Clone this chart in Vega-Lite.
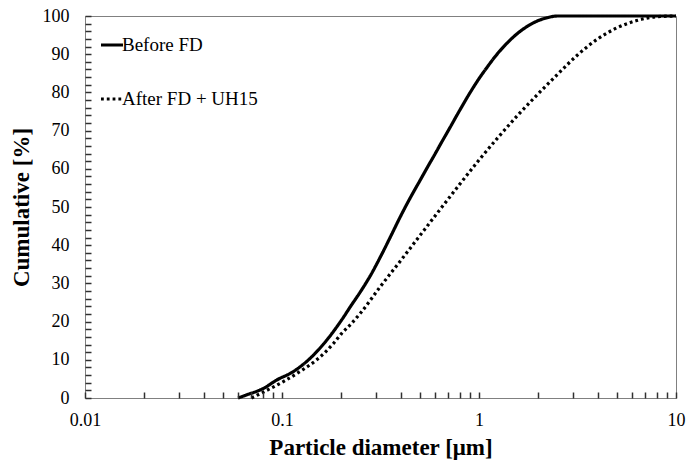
{
  "$schema": "https://vega.github.io/schema/vega-lite/v6.json",
  "width": 591,
  "height": 382,
  "autosize": "none",
  "padding": {"left": 85, "top": 16, "right": 18, "bottom": 63},
  "background": "white",
  "config": {
    "view": {"stroke": "#808080", "strokeWidth": 1},
    "font": "Liberation Serif, Times New Roman, serif",
    "axis": {
      "labelFont": "Liberation Serif, Times New Roman, serif",
      "titleFont": "Liberation Serif, Times New Roman, serif",
      "labelFontSize": 18,
      "titleFontSize": 23,
      "titleFontWeight": "bold",
      "labelColor": "black",
      "titleColor": "black",
      "grid": false
    }
  },
  "data": {
    "values": [
      {"s": "Before FD", "d": 0.0598, "c": 0},
      {"s": "Before FD", "d": 0.066, "c": 0.8},
      {"s": "Before FD", "d": 0.0804, "c": 2.5},
      {"s": "Before FD", "d": 0.094, "c": 4.7},
      {"s": "Before FD", "d": 0.114, "c": 6.9},
      {"s": "Before FD", "d": 0.139, "c": 10.4},
      {"s": "Before FD", "d": 0.169, "c": 15.2},
      {"s": "Before FD", "d": 0.2, "c": 20.3},
      {"s": "Before FD", "d": 0.225, "c": 24.3},
      {"s": "Before FD", "d": 0.25, "c": 27.8},
      {"s": "Before FD", "d": 0.28, "c": 31.9},
      {"s": "Before FD", "d": 0.32, "c": 37.5},
      {"s": "Before FD", "d": 0.36, "c": 42.8},
      {"s": "Before FD", "d": 0.4, "c": 47.6},
      {"s": "Before FD", "d": 0.45, "c": 52.6},
      {"s": "Before FD", "d": 0.5, "c": 56.8},
      {"s": "Before FD", "d": 0.55, "c": 60.6},
      {"s": "Before FD", "d": 0.6, "c": 64.0},
      {"s": "Before FD", "d": 0.65, "c": 67.2},
      {"s": "Before FD", "d": 0.7, "c": 70.1},
      {"s": "Before FD", "d": 0.8, "c": 75.4},
      {"s": "Before FD", "d": 0.9, "c": 79.9},
      {"s": "Before FD", "d": 1.0, "c": 83.6},
      {"s": "Before FD", "d": 1.1, "c": 86.6},
      {"s": "Before FD", "d": 1.2, "c": 89.2},
      {"s": "Before FD", "d": 1.4, "c": 93.1},
      {"s": "Before FD", "d": 1.6, "c": 95.8},
      {"s": "Before FD", "d": 1.8, "c": 97.6},
      {"s": "Before FD", "d": 2.0, "c": 98.8},
      {"s": "Before FD", "d": 2.2, "c": 99.5},
      {"s": "Before FD", "d": 2.5, "c": 100},
      {"s": "Before FD", "d": 10, "c": 100},
      {"s": "After FD + UH15", "d": 0.07, "c": 0},
      {"s": "After FD + UH15", "d": 0.0837, "c": 2.0},
      {"s": "After FD + UH15", "d": 0.1016, "c": 4.3},
      {"s": "After FD + UH15", "d": 0.123, "c": 6.9},
      {"s": "After FD + UH15", "d": 0.15, "c": 10.0},
      {"s": "After FD + UH15", "d": 0.182, "c": 14.2},
      {"s": "After FD + UH15", "d": 0.2, "c": 16.8},
      {"s": "After FD + UH15", "d": 0.225, "c": 19.5},
      {"s": "After FD + UH15", "d": 0.251, "c": 22.3},
      {"s": "After FD + UH15", "d": 0.316, "c": 29.2},
      {"s": "After FD + UH15", "d": 0.398, "c": 35.8},
      {"s": "After FD + UH15", "d": 0.501, "c": 42.5},
      {"s": "After FD + UH15", "d": 0.631, "c": 49.2},
      {"s": "After FD + UH15", "d": 0.794, "c": 55.8},
      {"s": "After FD + UH15", "d": 1.0, "c": 62.3},
      {"s": "After FD + UH15", "d": 1.259, "c": 68.4},
      {"s": "After FD + UH15", "d": 1.585, "c": 74.2},
      {"s": "After FD + UH15", "d": 1.995, "c": 79.6},
      {"s": "After FD + UH15", "d": 2.512, "c": 84.8},
      {"s": "After FD + UH15", "d": 3.162, "c": 89.8},
      {"s": "After FD + UH15", "d": 3.981, "c": 93.9},
      {"s": "After FD + UH15", "d": 5.012, "c": 96.9},
      {"s": "After FD + UH15", "d": 6.31, "c": 98.8},
      {"s": "After FD + UH15", "d": 7.94, "c": 99.8},
      {"s": "After FD + UH15", "d": 10, "c": 100}
    ]
  },
  "mark": {"type": "line", "color": "black", "strokeWidth": 3.2, "interpolate": "monotone", "strokeCap": "butt"},
  "encoding": {
    "x": {
      "field": "d",
      "type": "quantitative",
      "scale": {"type": "log", "domain": [0.01, 10], "nice": false},
      "axis": {
        "title": "Particle diameter [μm]",
        "values": [0.01, 0.02, 0.03, 0.04, 0.05, 0.06, 0.07, 0.08, 0.09, 0.1, 0.2, 0.3, 0.4, 0.5, 0.6, 0.7, 0.8, 0.9, 1, 2, 3, 4, 5, 6, 7, 8, 9, 10],
        "labelExpr": "datum.value == 0.01 || datum.value == 0.1 || datum.value == 1 || datum.value == 10 ? '' + datum.value : ''",
        "domain": false,
        "ticks": true,
        "tickColor": "#303030",
        "tickWidth": 1.5,
        "tickOpacity": 1,
        "offset": -6,
        "tickSize": 6,
        "zindex": 1,
        "labelPadding": 13,
        "titlePadding": 7,
        "labelFlush": false,
        "labelOverlap": false
      }
    },
    "y": {
      "field": "c",
      "type": "quantitative",
      "scale": {"domain": [0, 100], "nice": false},
      "axis": {
        "title": "Cumulative [%]",
        "values": [0, 2, 4, 6, 8, 10, 12, 14, 16, 18, 20, 22, 24, 26, 28, 30, 32, 34, 36, 38, 40, 42, 44, 46, 48, 50, 52, 54, 56, 58, 60, 62, 64, 66, 68, 70, 72, 74, 76, 78, 80, 82, 84, 86, 88, 90, 92, 94, 96, 98, 100],
        "labelExpr": "datum.value % 10 == 0 ? '' + datum.value : ''",
        "domain": false,
        "ticks": true,
        "tickColor": "#303030",
        "tickWidth": 1.5,
        "tickOpacity": 1,
        "offset": -6,
        "tickSize": 6,
        "zindex": 1,
        "labelPadding": 16,
        "titlePadding": 9,
        "labelFlush": false,
        "labelOverlap": false
      }
    },
    "strokeDash": {
      "field": "s",
      "type": "nominal",
      "scale": {"domain": ["Before FD", "After FD + UH15"], "range": [[1, 0], [2.8, 3]]},
      "legend": {
        "title": null,
        "orient": "none",
        "legendX": 14,
        "legendY": 16,
        "symbolType": "stroke",
        "symbolSize": 484,
        "symbolStrokeWidth": 3.2,
        "symbolStrokeColor": "black",
        "labelFont": "Liberation Serif, Times New Roman, serif",
        "labelFontSize": 19,
        "labelColor": "black",
        "labelOffset": -3,
        "rowPadding": 31
      }
    }
  }
}
